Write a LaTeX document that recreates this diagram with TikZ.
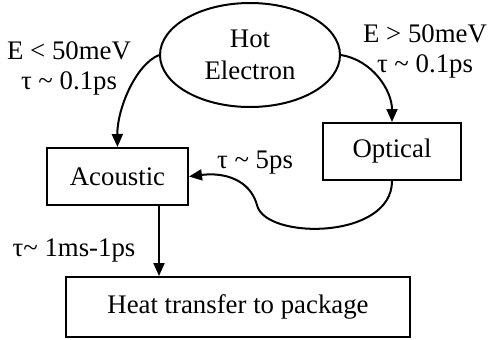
\documentclass[tikz,border=0pt]{standalone}
\usepackage{fontspec}
\setmainfont{Liberation Serif}
\usepackage{tikz}
\usetikzlibrary{positioning, arrows.meta}
\usetikzlibrary{shapes.geometric,calc}

\begin{document}
\begin{tikzpicture}[x=0.5pt, y=-0.5pt, line width=1pt,
    box/.style={draw, inner sep=0pt, font=\fontsize{13.4}{15}\selectfont},
    lbl/.style={align=center, inner sep=0pt, font=\fontsize{13.4}{15}\selectfont},
    arr/.style={-{Triangle[length=6.5pt,width=5.5pt]}}]
  \useasboundingbox (0,0) rectangle (488,339);
  \node[box, ellipse, minimum width=90pt, minimum height=52pt, align=center,
    font=\fontsize{13.4}{16}\selectfont] (hot) at (250,55) {Hot\\Electron};
  \node[box, minimum width=70.5pt, minimum height=28.5pt] (acou) at (117.5,176.5) {Acoustic};
  \node[box, minimum width=69pt, minimum height=28.5pt] (opt) at (392,151.5) {Optical};
  \node[box, minimum width=172pt, minimum height=30pt] (heat) at (238,307) {Heat transfer to package};
  % scattering paths
  \draw[arr] (hot.west) .. controls (135,65) and (117,110) .. (acou.north);
  \draw[arr] (hot.east) .. controls (372,60) and (392,90) .. (opt.north);
  \draw[arr] (opt.south) .. controls (392,240) and (265,240) .. (257,205)
    .. controls (250,180) and (225,172) .. (acou.east);
  \draw[arr] (acou.south -| 159,0) -- (heat.north -| 159,0);
  % rates
  \node[lbl] (lowE) at (69,68) {E < 50meV\\τ \textasciitilde{} 0.1ps};
  \node[lbl] (highE) at (425,51) {E > 50meV\\τ \textasciitilde{} 0.1ps};
  \node[lbl] (tauOpt) at (255,163) {τ \textasciitilde{} 5ps};
  \node[lbl] (tauHeat) at (74,250) {τ\textasciitilde{} 1ms-1ps};
\end{tikzpicture}
\end{document}
